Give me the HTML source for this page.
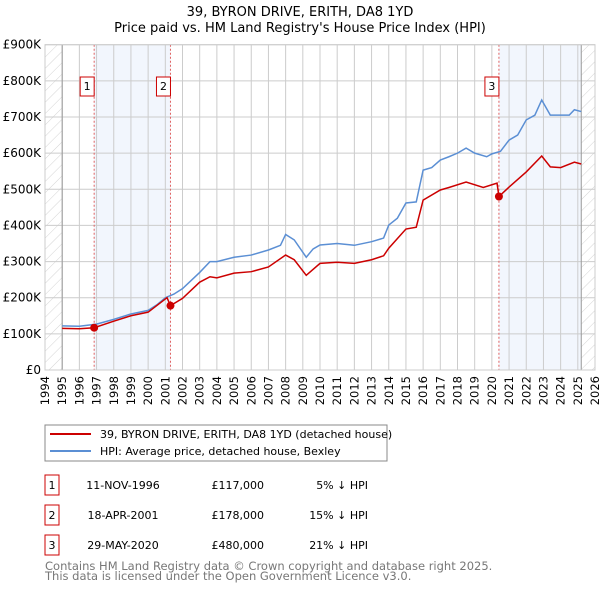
<!DOCTYPE html>
<html><head><meta charset="utf-8"><style>
body{margin:0;background:#fff;width:600px;height:590px;overflow:hidden;font-family:"DejaVu Sans","Liberation Sans",sans-serif}
svg text{font-family:"DejaVu Sans","Liberation Sans",sans-serif}
</style></head><body>
<svg id="c" width="600" height="590" xmlns="http://www.w3.org/2000/svg">
<defs><pattern id="h" width="8" height="8" patternUnits="userSpaceOnUse" patternTransform="rotate(45)"><line x1="0" y1="0" x2="0" y2="8" stroke="#d4d4d4" stroke-width="1"/></pattern></defs>
<text x="300" y="16" text-anchor="middle" font-size="13">39, BYRON DRIVE, ERITH, DA8 1YD</text>
<text x="300" y="32" text-anchor="middle" font-size="13">Price paid vs. HM Land Registry's House Price Index (HPI)</text>
<g id="plot"></g>
<rect x="45" y="425" width="342" height="36" fill="#fff" stroke="#888"/>
<line x1="50" y1="434" x2="91" y2="434" stroke="#cc0000" stroke-width="2"/>
<text x="100" y="438" font-size="11">39, BYRON DRIVE, ERITH, DA8 1YD (detached house)</text>
<line x1="50" y1="451" x2="91" y2="451" stroke="#5b8fd4" stroke-width="2"/>
<text x="100" y="455" font-size="11">HPI: Average price, detached house, Bexley</text>
<g id="tbl" font-size="11"></g>
<text x="45" y="570" font-size="11.5" fill="#777">Contains HM Land Registry data © Crown copyright and database right 2025.</text>
<text x="45" y="580" font-size="11.5" fill="#777">This data is licensed under the Open Government Licence v3.0.</text>
</svg>
<script>
const hpiYears=[1995,1996,1997,1998,1999,2000,2000.5,2001,2001.5,2002,2003,2003.6,2004,2005,2006,2007,2007.7,2008,2008.5,2009.2,2009.6,2010,2011,2012,2013,2013.7,2014,2014.5,2015,2015.6,2016,2016.5,2017,2017.5,2018,2018.5,2019,2019.7,2020,2020.5,2021,2021.5,2022,2022.5,2022.9,2023.4,2023.8,2024.5,2024.8,2025.2];
const hpiVals=[122,121,127,140,155,165,180,200,210,225,270,300,300,312,318,332,345,375,360,312,335,346,350,345,355,365,401,420,462,465,553,560,581,590,600,614,600,590,598,605,636,650,692,705,747,705,705,705,720,715];
const redYears=[1995,1996,1996.86,1998,1999,2000,2001.1,2001.3,2002,2003,2003.6,2004,2005,2006,2007,2008,2008.5,2009.2,2010,2011,2012,2013,2013.7,2014,2015,2015.6,2016,2017,2017.5,2018.5,2019.5,2020.3,2020.41,2021,2022,2022.9,2023.4,2024,2024.8,2025.2];
const redVals=[115,114,117,135,150,160,200,178,198,243,258,255,268,272,285,318,305,262,295,298,295,305,316,337,390,395,470,498,505,520,505,517,480,506,548,592,562,560,575,570];
const saleYears=[1996.86,2001.3,2020.41];
const saleVals=[117,178,480];
const saleLabels=["1","2","3"];
const saleDates=["11-NOV-1996","18-APR-2001","29-MAY-2020"];
const salePrices=["£117,000","£178,000","£480,000"];
const salePcts=["5% ↓ HPI","15% ↓ HPI","21% ↓ HPI"];
const yTicks=[0,100,200,300,400,500,600,700,800,900];
const yTickLabels=["£0","£100K","£200K","£300K","£400K","£500K","£600K","£700K","£800K","£900K"];
const xTicks=[1994,1995,1996,1997,1998,1999,2000,2001,2002,2003,2004,2005,2006,2007,2008,2009,2010,2011,2012,2013,2014,2015,2016,2017,2018,2019,2020,2021,2022,2023,2024,2025,2026];

const X0=45,X1=595,Y0=370,Y1=44.7;
const xs=y=>X0+(y-1994)/(2026-1994)*(X1-X0);
const ys=v=>Y0-v/900*(Y0-Y1);
const NS="http://www.w3.org/2000/svg";
const g=document.getElementById('plot');
function mk(t,a,p){const e=document.createElementNS(NS,t);for(const k in a)e.setAttribute(k,a[k]);(p||g).appendChild(e);return e;}
let e;
e=mk('rect',{x:xs(1994),y:Y1,width:xs(1995)-xs(1994),height:Y0-Y1,fill:'url(#h)'});


e=mk('rect',{x:xs(2025.2),y:Y1,width:X1-xs(2025.2),height:Y0-Y1,fill:'url(#h)'});


e=mk('rect',{x:xs(saleYears[0]),y:Y1,width:xs(saleYears[1])-xs(saleYears[0]),height:Y0-Y1,fill:'#f2f6fd'});


e=mk('rect',{x:xs(saleYears[2]),y:Y1,width:xs(2025.2)-xs(saleYears[2]),height:Y0-Y1,fill:'#f2f6fd'});


xTicks.forEach(t=>{
 e=mk('line',{x1:xs(t),x2:xs(t),y1:Y1,y2:Y0,stroke:'#ccc'});
 
 
 e=mk('text',{x:0,y:0,'font-size':11.5,'text-anchor':'end',transform:`translate(${xs(t)+4},${Y0+6}) rotate(-90)`});
 e.textContent=t;
 
 
});
yTicks.forEach((t,i)=>{
 e=mk('line',{x1:X0,x2:X1,y1:ys(t),y2:ys(t),stroke:'#ccc'});
 
 
 e=mk('text',{x:41,y:ys(t)+4,'font-size':12,'text-anchor':'end'});
 e.textContent=yTickLabels[i];
 
 
});
e=mk('line',{x1:xs(1995),x2:xs(1995),y1:Y1,y2:Y0,stroke:'#999'});


e=mk('line',{x1:xs(2025.2),x2:xs(2025.2),y1:Y1,y2:Y0,stroke:'#999'});


saleYears.forEach((y,i)=>{
 e=mk('line',{x1:xs(y),x2:xs(y),y1:Y1,y2:Y0,stroke:'#e06060','stroke-dasharray':'2,2'});
 
 
});
e=mk('polyline',{points:hpiYears.map((y,i)=>xs(y)+','+ys(hpiVals[i])).join(' '),fill:'none',stroke:'#5b8fd4','stroke-width':1.5});


e=mk('polyline',{points:redYears.map((y,i)=>xs(y)+','+ys(redVals[i])).join(' '),fill:'none',stroke:'#cc0000','stroke-width':1.5});


saleYears.forEach((y,i)=>{
 e=mk('circle',{cx:xs(y),cy:ys(saleVals[i]),r:4,fill:'#cc0000'});
 
 
 e=mk('rect',{x:xs(y)-14,y:77,width:14,height:19,fill:'#fff',stroke:'#cc0000'});
 
 
 e=mk('text',{x:xs(y)-7,y:90,'font-size':11,'text-anchor':'middle'});
 e.textContent=saleLabels[i];
 
 
});
e=mk('rect',{x:X0,y:Y1,width:X1-X0,height:Y0-Y1,fill:'none',stroke:'#ccc'});


const tb=document.getElementById('tbl');
saleYears.forEach((y,i)=>{
 const ry=475+i*30;
 e=mk('rect',{x:45,y:ry,width:14,height:20,fill:'#fff',stroke:'#cc0000'},tb);
 
 
 e=mk('text',{x:52,y:ry+14,'text-anchor':'middle'},tb);e.textContent=saleLabels[i];
 
 
 e=mk('text',{x:123,y:ry+14,'text-anchor':'middle'},tb);e.textContent=saleDates[i];
 
 
 e=mk('text',{x:264,y:ry+14,'text-anchor':'end'},tb);e.textContent=salePrices[i];
 
 
 e=mk('text',{x:368,y:ry+14,'text-anchor':'end'},tb);e.textContent=salePcts[i];
 
 
});
</script>
</body></html>
